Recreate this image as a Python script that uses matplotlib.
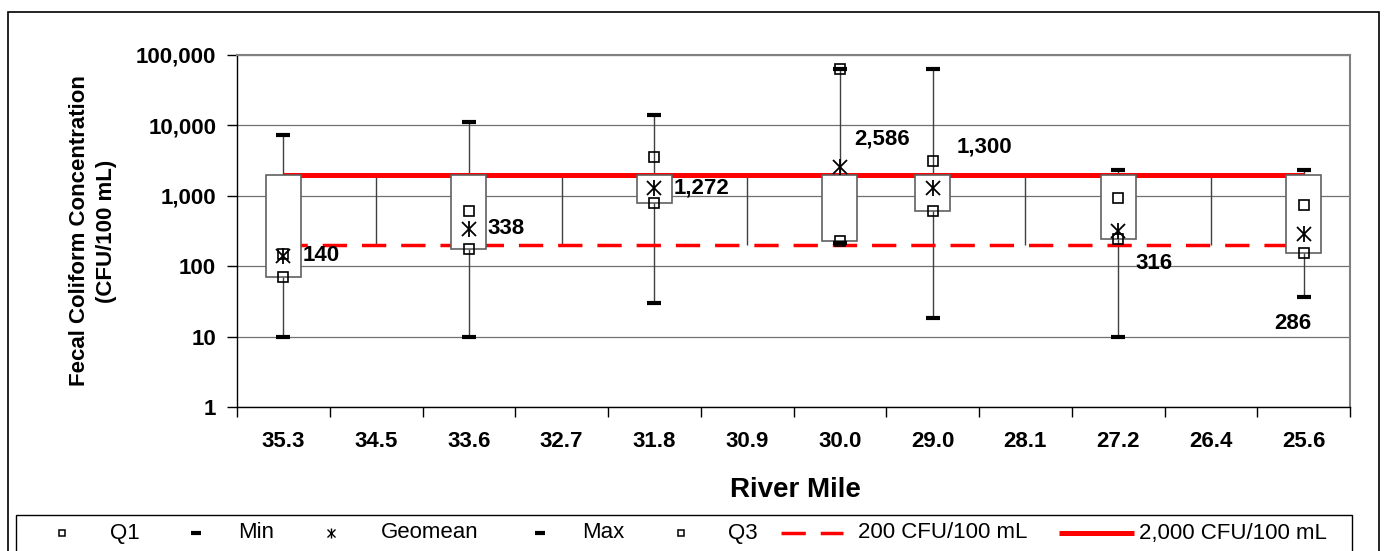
import numpy as np
import matplotlib
matplotlib.use('Agg')
import matplotlib.pyplot as plt
from matplotlib.lines import Line2D
from matplotlib.patches import Rectangle
from matplotlib.ticker import NullLocator

plt.rcParams['font.family'] = ['Liberation Sans', 'DejaVu Sans']

nan = np.nan

# data (CFU/100 mL)
river_mile = ['35.3', '34.5', '33.6', '32.7', '31.8', '30.9',
              '30.0', '29.0', '28.1', '27.2', '26.4', '25.6']
q1 = [70, nan, 175, nan, 790, nan, 225, 610, nan, 240, nan, 155]
min_val = [10, nan, 10, nan, 30, nan, 215, 18.5, nan, 10, nan, 36]
geomean = [140, nan, 338, nan, 1272, nan, 2586, 1300, nan, 316, nan, 286]
max_val = [7300, nan, 11000, nan, 14000, nan, 63000, 63000, nan, 2300, nan, 2300]
q3 = [150, nan, 610, nan, 3500, nan, 63000, 3100, nan, 940, nan, 740]
std_200 = [200, 200, 200, 200, 200, 200, 200, 200, 200, 200, 200, 200]
std_2000 = [2000, 2000, 2000, 2000, 2000, 2000, 2000, 2000, 2000, 2000, 2000, 2000]

ytick_vals = [1, 10, 100, 1000, 10000, 100000]
ytick_labels = ['1', '10', '100', '1,000', '10,000', '100,000']

# label offsets (pixels) for the geomean labels, one per box
label_offsets = [(19, 0), (19, 0), (19, 0), (14, 28), (24, 41), (17, -32), (-29, -89)]

W, H = 1384., 551.
fig = plt.figure(figsize=(W / 100, H / 100), dpi=100)
ax = fig.add_axes([237 / W, 1 - 407 / H, (1350 - 237) / W, (407 - 55) / H])

x = np.arange(len(river_mile))
q1 = np.array(q1, float)
min_val = np.array(min_val, float)
geomean = np.array(geomean, float)
max_val = np.array(max_val, float)
q3 = np.array(q3, float)
std_200 = np.array(std_200, float)
std_2000 = np.array(std_2000, float)

ax.set_yscale('log')
ax.set_ylim(1, 1e5)
ax.set_xlim(-0.5, len(x) - 0.5)
ax.set_yticks(ytick_vals)
ax.set_yticklabels(ytick_labels, fontsize=16, fontweight='bold')
ax.yaxis.set_minor_locator(NullLocator())
ax.grid(axis='y', color='#707070', lw=0.9)
ax.set_axisbelow(True)

ax.set_xticks(np.arange(-0.5, len(x), 1))
ax.set_xticklabels([])
ax.set_xticks(x, minor=True)
ax.set_xticklabels(river_mile, minor=True, fontsize=16, fontweight='bold')
ax.tick_params(axis='x', which='minor', length=0, pad=17)
ax.tick_params(axis='x', which='major', length=7, direction='out', width=1)
ax.tick_params(axis='y', which='major', length=7, direction='out', width=1, pad=8)

for s in ['top', 'right']:
    ax.spines[s].set_color('#808080')
    ax.spines[s].set_linewidth(1.5)
for s in ['left', 'bottom']:
    ax.spines[s].set_color('black')
    ax.spines[s].set_linewidth(1)

# high-low lines over all series
all_series = np.vstack([q1, min_val, geomean, max_val, q3, std_200, std_2000])
lo = np.nanmin(all_series, axis=0)
hi = np.nanmax(all_series, axis=0)
ax.vlines(x, lo, hi, color='#404040', lw=1, zorder=2)

# standards
ax.plot(x, std_2000, color='#ff0000', lw=3.6, solid_capstyle='butt', zorder=3)
ax.plot(x, std_200, color='#ff0000', lw=2.5, dashes=(7, 4.3), zorder=3)

# up-down bars (Q1 to 2,000 line)
ok = ~np.isnan(q1)
ax.bar(x[ok], std_2000[ok] - q1[ok], bottom=q1[ok], width=0.38,
       color='white', edgecolor='#606060', lw=1.2, zorder=4)

# markers
ax.plot(x, q1, ls='none', marker='s', ms=7, mfc='none', mec='black', mew=1.2, zorder=5)
ax.plot(x, q3, ls='none', marker='s', ms=7, mfc='none', mec='black', mew=1.2, zorder=5)
ax.plot(x, min_val, ls='none', marker='_', ms=9.5, mew=3, color='black', zorder=5)
ax.plot(x, max_val, ls='none', marker='_', ms=9.5, mew=3, color='black', zorder=5)
ax.plot(x, geomean, ls='none', marker='x', ms=9.5, mew=1.3, color='black', zorder=5)
ax.plot(x, geomean, ls='none', marker='|', ms=12, mew=1.3, color='black', zorder=5)

# geomean labels
gi = x[~np.isnan(geomean)]
for xi, (dx, dy) in zip(gi, label_offsets):
    ax.annotate('{:,.0f}'.format(geomean[xi]), (xi, geomean[xi]), xytext=(dx, dy),
                textcoords='offset pixels', ha='left', va='center',
                fontsize=16, fontweight='bold', zorder=6)

fig.text(93 / W, 1 - 231 / H, 'Fecal Coliform Concentration\n(CFU/100 mL)',
         rotation=90, ha='center', va='center', multialignment='center',
         fontsize=16, fontweight='bold', linespacing=1.35)
fig.text(795 / W, 1 - 490 / H, 'River Mile', ha='center', va='center',
         fontsize=20, fontweight='bold')

# outer chart border and legend frame
fig.add_artist(Rectangle((8 / W, -0.1), (1379 - 8) / W, 1.1 - 12 / H,
                         transform=fig.transFigure, fill=False, ec='black', lw=1.2))
fig.add_artist(Rectangle((16 / W, -0.1), (1352 - 16) / W, 0.1 + 1 - 515 / H,
                         transform=fig.transFigure, fill=False, ec='black', lw=1))

# legend
ly = 1 - 533 / H
def leg_marker(px, **kw):
    fig.add_artist(Line2D([px / W], [ly], transform=fig.transFigure, ls='none', **kw))

leg_marker(62, marker='s', ms=5, mfc='none', mec='black', mew=1.1)
leg_marker(196, marker='_', ms=7, mew=3, color='black')
leg_marker(331, marker='x', ms=6, mew=1, color='black')
leg_marker(331, marker='|', ms=7.5, mew=1, color='black')
leg_marker(540, marker='_', ms=7, mew=3, color='black')
leg_marker(681, marker='s', ms=5, mfc='none', mec='black', mew=1.1)
fig.add_artist(Line2D([781 / W, 843 / W], [ly, ly], transform=fig.transFigure,
                      color='#ff0000', lw=2.5, dashes=(7, 4.3)))
fig.add_artist(Line2D([1059 / W, 1134 / W], [ly, ly], transform=fig.transFigure,
                      color='#ff0000', lw=3.6, solid_capstyle='butt'))

leg_text = [(110, 'Q1'), (238, 'Min'), (381, 'Geomean'), (582, 'Max'),
            (728, 'Q3'), (858, '200 CFU/100 mL'), (1139, '2,000 CFU/100 mL')]
for px, t in leg_text:
    fig.text(px / W, ly, t, ha='left', va='center', fontsize=16)

fig.savefig('out.png', dpi=100)
